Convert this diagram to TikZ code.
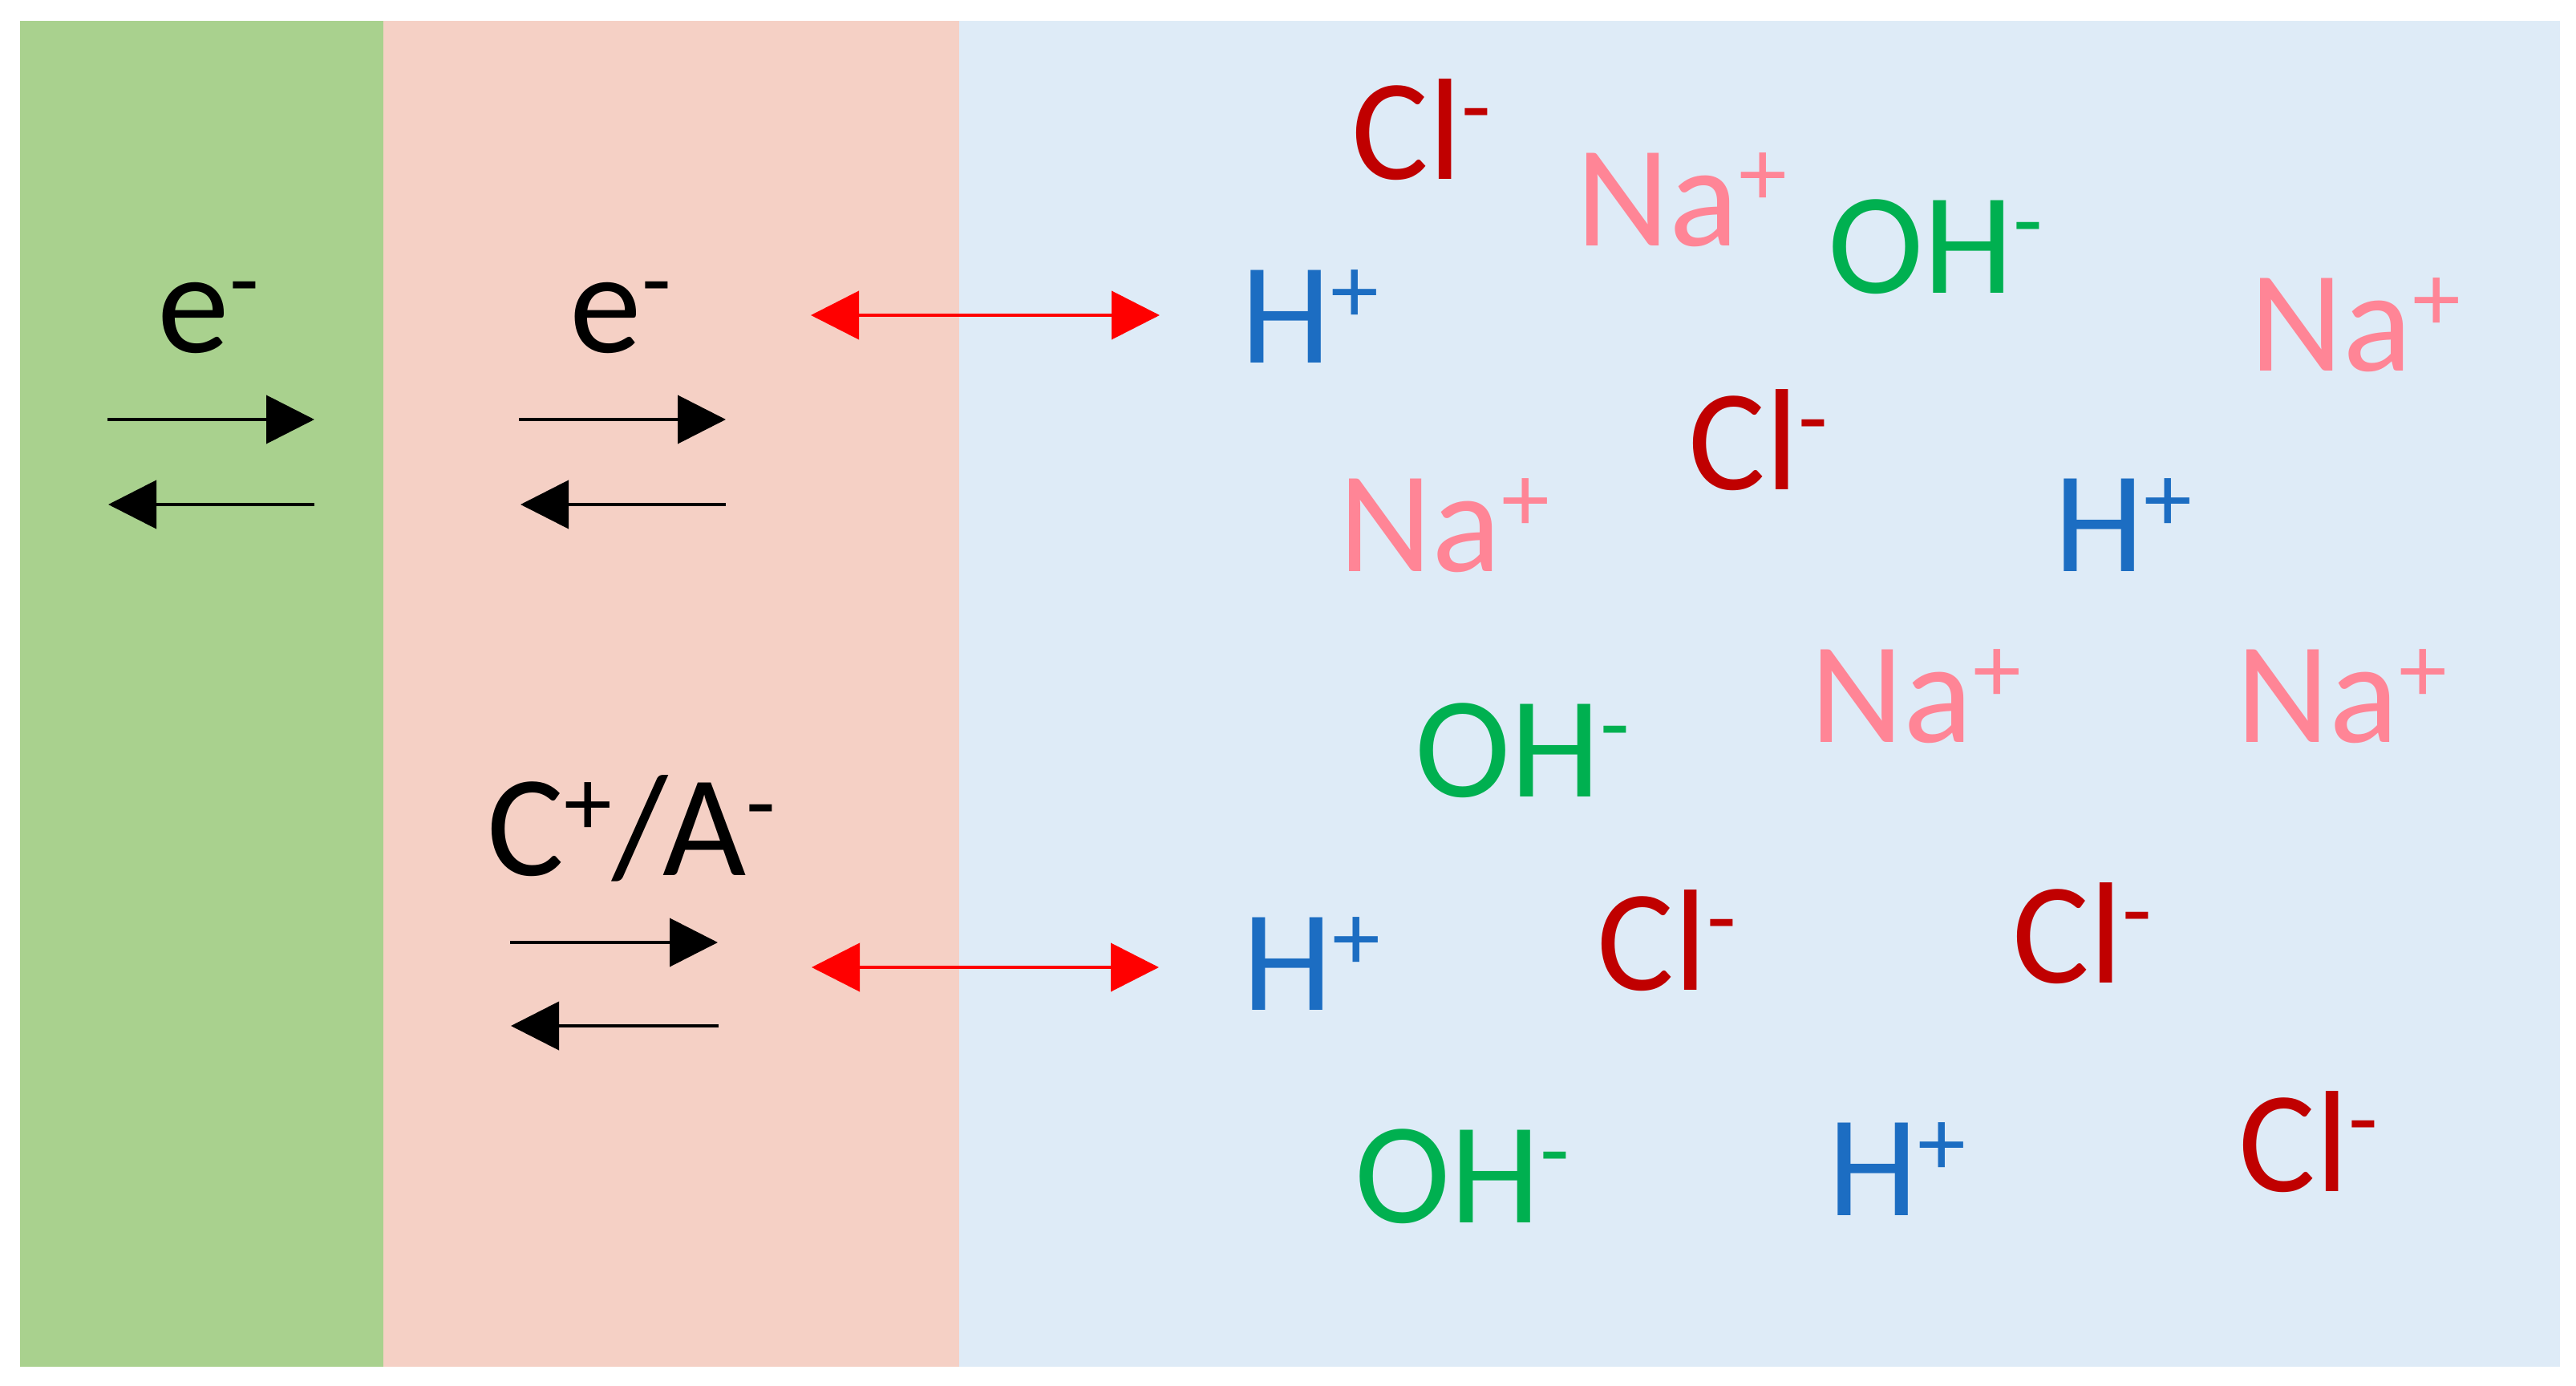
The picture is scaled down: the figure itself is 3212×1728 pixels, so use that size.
\documentclass[tikz,border=0pt]{standalone}
\usepackage{fontspec}
\setmainfont{Carlito}
\usetikzlibrary{arrows.meta}
\definecolor{pgreen}{HTML}{A9D18E}
\definecolor{ppink}{HTML}{F5D0C5}
\definecolor{pblue}{HTML}{DEEBF7}
\definecolor{clred}{HTML}{C00000}
\definecolor{napink}{HTML}{FF8596}
\definecolor{ohgreen}{HTML}{00B050}
\definecolor{hblue}{HTML}{1C6DC2}
\newcommand{\ionsup}[1]{\raisebox{5mm}{\fontsize{34.1}{34}\selectfont #1}}
\begin{document}
\begin{tikzpicture}[x=0.1mm,y=-0.1mm,
  lbl/.style={anchor=base west, inner sep=0pt, font=\fontsize{51.2}{61}\selectfont},
  blk/.style={lbl, text=black},
  clion/.style={lbl, text=clred},
  naion/.style={lbl, text=napink},
  ohion/.style={lbl, text=ohgreen},
  hion/.style={lbl, text=hblue},
  blkarrow/.style={line width=0.4mm, black, -{Triangle[length=6mm,width=6mm]}},
  redarrow/.style={line width=0.4mm, red, {Triangle[length=6mm,width=6mm]}-{Triangle[length=6mm,width=6mm]}}]
\useasboundingbox (0,0) rectangle (3212,1728);
\fill[white] (0,0) rectangle (3212,1728);
% panels
\fill[pgreen] (25,26) rectangle (478,1704);
\fill[ppink] (478,26) rectangle (1196,1704);
\fill[pblue] (1196,26) rectangle (3192,1704);
% black labels
\node[blk] (eL) at (196,440) {e\ionsup{-}};
\node[blk] (eM) at (710,440) {e\ionsup{-}};
\node[blk] (ca) at (607,1091) {C\ionsup{+}/A\ionsup{-}};
% black arrow ends
\coordinate (l1s) at (134,523); \coordinate (l1e) at (392,523);
\coordinate (l2s) at (392,629); \coordinate (l2e) at (135,629);
\coordinate (m1s) at (647,523); \coordinate (m1e) at (905,523);
\coordinate (m2s) at (905,629); \coordinate (m2e) at (649,629);
\coordinate (c1s) at (636,1175); \coordinate (c1e) at (895,1175);
\coordinate (c2s) at (896,1279); \coordinate (c2e) at (637,1279);
\draw[blkarrow] (l1s) -- (l1e);
\draw[blkarrow] (l2s) -- (l2e);
\draw[blkarrow] (m1s) -- (m1e);
\draw[blkarrow] (m2s) -- (m2e);
\draw[blkarrow] (c1s) -- (c1e);
\draw[blkarrow] (c2s) -- (c2e);
% red arrows
\coordinate (r1a) at (1011,393); \coordinate (r1b) at (1446,393);
\coordinate (r2a) at (1012,1206); \coordinate (r2b) at (1445,1206);
\draw[redarrow] (r1a) -- (r1b);
\draw[redarrow] (r2a) -- (r2b);
% ions
\node[clion] (cl1) at (1685,224) {Cl\ionsup{-}};
\node[naion] (na1) at (1965,307) {Na\ionsup{+}};
\node[ohion] (oh1) at (2279,366) {OH\ionsup{-}};
\node[hion]  (h1)  at (1547,453) {H\ionsup{+}};
\node[naion] (na2) at (2805,463) {Na\ionsup{+}};
\node[clion] (cl2) at (2105,611) {Cl\ionsup{-}};
\node[naion] (na3) at (1669,712) {Na\ionsup{+}};
\node[hion]  (h2)  at (2561,712) {H\ionsup{+}};
\node[ohion] (oh2) at (1764,993) {OH\ionsup{-}};
\node[naion] (na4) at (2257,925) {Na\ionsup{+}};
\node[naion] (na5) at (2788,925) {Na\ionsup{+}};
\node[hion]  (h3)  at (1549,1259) {H\ionsup{+}};
\node[clion] (cl3) at (1991,1234) {Cl\ionsup{-}};
\node[clion] (cl4) at (2509,1225) {Cl\ionsup{-}};
\node[ohion] (oh3) at (1689,1524) {OH\ionsup{-}};
\node[hion]  (h4)  at (2279,1515) {H\ionsup{+}};
\node[clion] (cl5) at (2791,1485) {Cl\ionsup{-}};
\end{tikzpicture}
\end{document}
